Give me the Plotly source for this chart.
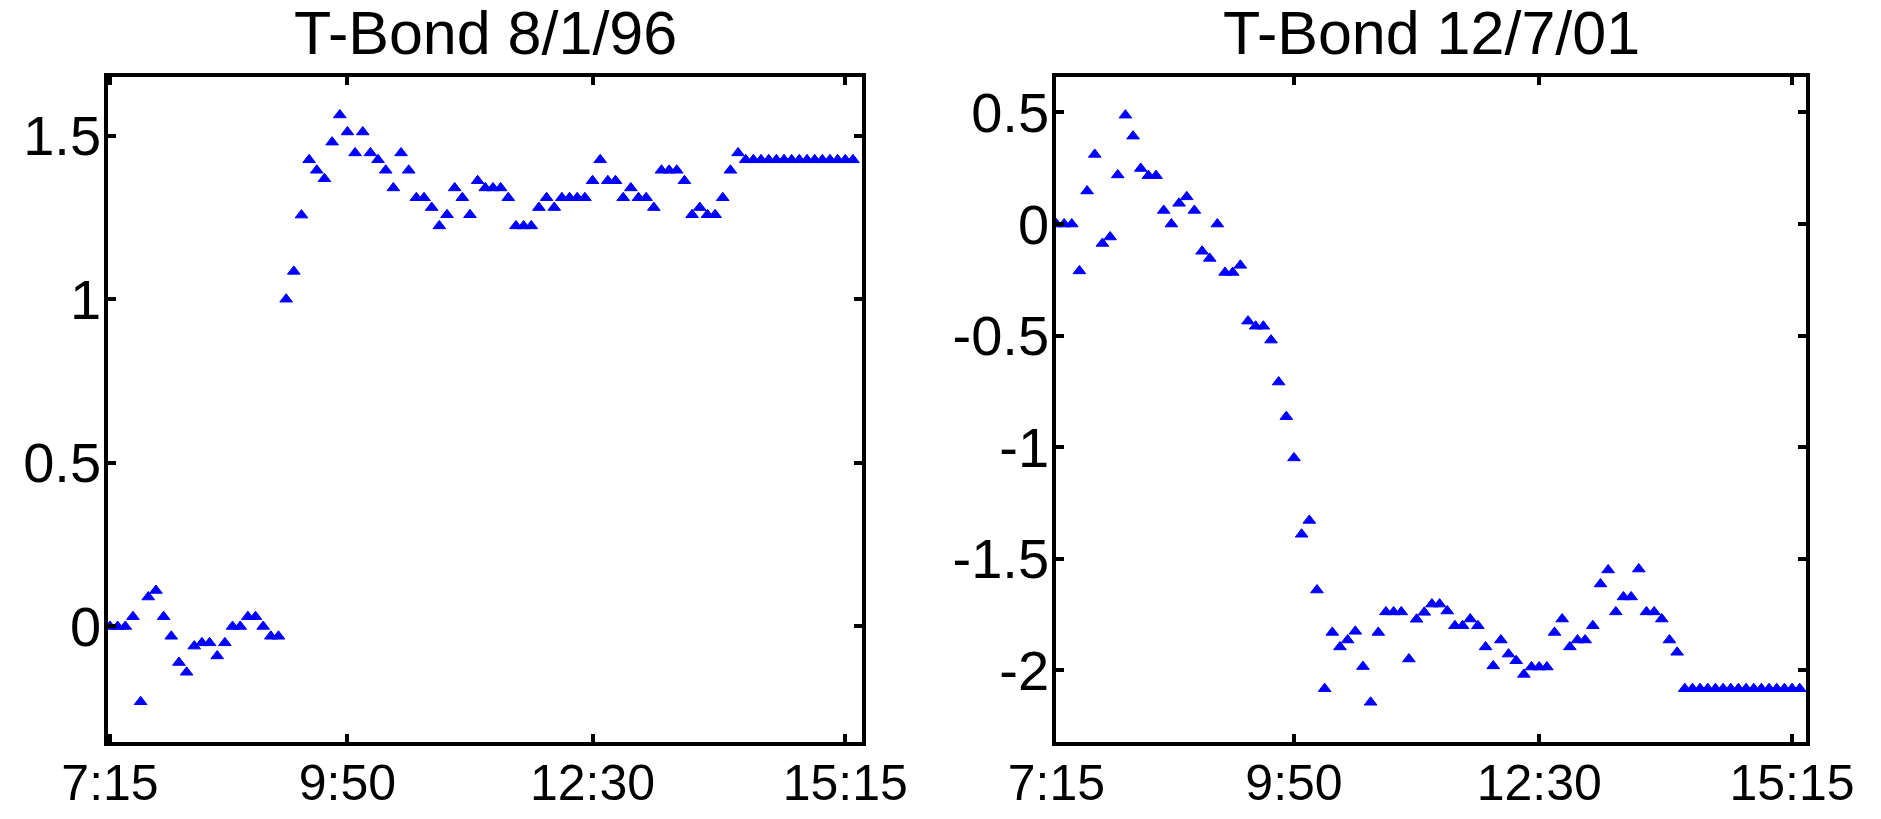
import plotly.graph_objects as go

# observation times: minutes after midnight, every 5 minutes from 7:15 to 15:20
times = list(range(435, 925, 5))

tbond_960801 = [0, 0, 0, 0.03, -0.23, 0.09, 0.11, 0.03, -0.03, -0.11, -0.14,
                -0.06, -0.05, -0.05, -0.09, -0.05, 0.0, 0.0, 0.03, 0.03, 0.0,
                -0.03, -0.03, 1.0, 1.085, 1.257, 1.426, 1.394, 1.368, 1.48, 1.563,
                1.511, 1.447, 1.511, 1.447, 1.426, 1.394, 1.34, 1.447, 1.394,
                1.31, 1.31, 1.28, 1.224, 1.258, 1.34, 1.31, 1.258, 1.362,
                1.34, 1.34, 1.34, 1.31, 1.224, 1.224, 1.224, 1.28, 1.31, 1.28,
                1.31, 1.31, 1.31, 1.31, 1.362, 1.426, 1.362, 1.362, 1.31, 1.34,
                1.31, 1.31, 1.28, 1.394, 1.394, 1.394, 1.362, 1.258, 1.28,
                1.258, 1.258, 1.31, 1.394, 1.447,
                1.426, 1.426, 1.426, 1.426, 1.426, 1.426, 1.426, 1.426, 1.426,
                1.426, 1.426, 1.426, 1.426, 1.426, 1.426]

tbond_011207 = [0, 0, 0, -0.21, 0.148, 0.312, -0.087, -0.058, 0.22, 0.488, 0.394,
                0.249, 0.217, 0.217, 0.061, 0, 0.093, 0.122, 0.061, -0.122, -0.154,
                0, -0.217, -0.217, -0.185, -0.435, -0.458, -0.458, -0.52, -0.708,
                -0.863, -1.048, -1.39, -1.328, -1.64, -2.082, -1.83, -1.895, -1.864,
                -1.825, -1.983, -2.143, -1.83, -1.738, -1.738, -1.738, -1.949,
                -1.771, -1.74, -1.703, -1.703, -1.734, -1.80, -1.80, -1.77, -1.80,
                -1.895, -1.98, -1.864, -1.927, -1.957, -2.018, -1.985, -1.985,
                -1.985, -1.83, -1.77, -1.895, -1.864, -1.864, -1.80, -1.613, -1.55,
                -1.738, -1.671, -1.671, -1.546, -1.738, -1.738, -1.77, -1.864,
                -1.919,
                -2.082, -2.082, -2.082, -2.082, -2.082, -2.082, -2.082, -2.082,
                -2.082, -2.082, -2.082, -2.082, -2.082, -2.082, -2.082, -2.082]

x_tickvals = [435, 590, 750, 915]
x_ticktext = ["7:15", "9:50", "12:30", "15:15"]

left_yticks = [0, 0.5, 1, 1.5]
left_yticktext = ["0", "0.5", "1", "1.5"]
right_yticks = [-2, -1.5, -1, -0.5, 0, 0.5]
right_yticktext = ["-2", "-1.5", "-1", "-0.5", "0", "0.5"]

titles = ["T-Bond 8/1/96", "T-Bond 12/7/01"]

# the page body has an 8 px margin, so the figure is drawn 8 px in from the window
OFF = 8
W, H = 1881 - 2 * OFF, 819 - 2 * OFF
FONT = "Liberation Sans, Arial, Helvetica, sans-serif"
BLUE = "#0000FF"

fig = go.Figure()
marker = dict(symbol="triangle-up", size=11, color=BLUE, line=dict(color=BLUE, width=1))
fig.add_trace(go.Scatter(x=times, y=tbond_960801, mode="markers", marker=marker,
                         xaxis="x", yaxis="y", showlegend=False))
fig.add_trace(go.Scatter(x=times, y=tbond_011207, mode="markers", marker=marker,
                         xaxis="x2", yaxis="y2", showlegend=False))

dom_l = [(108 - OFF) / W, (862 - OFF) / W]
dom_r = [(1056 - OFF) / W, (1806 - OFF) / W]
dom_y = [1 - (742 - OFF) / H, 1 - (77 - OFF) / H]
title_y = 1 - (33 - OFF) / H

common = dict(showline=True, linecolor="black", linewidth=3.5, mirror="ticks",
              ticks="inside", ticklen=8, tickwidth=3.5, tickcolor="black",
              showgrid=False, zeroline=False, automargin=False)
xfont = dict(family=FONT, size=50, color="black")
yfont = dict(family=FONT, size=56, color="black")

fig.update_layout(
    width=W, height=H,
    margin=dict(l=0, r=0, t=0, b=0, autoexpand=False),
    paper_bgcolor="white", plot_bgcolor="white",
    xaxis=dict(domain=dom_l, range=[433.7, 925.9], tickvals=x_tickvals,
               ticktext=x_ticktext, anchor="y", ticklabelstandoff=-6,
               tickfont=xfont, **common),
    yaxis=dict(domain=dom_y, range=[-0.353, 1.679], tickvals=left_yticks,
               ticktext=left_yticktext, anchor="x", ticklabelstandoff=-8,
               tickfont=yfont, **common),
    xaxis2=dict(domain=dom_r, range=[434.7, 924.1], tickvals=x_tickvals,
                ticktext=x_ticktext, anchor="y2", ticklabelstandoff=-6,
                tickfont=xfont, **common),
    yaxis2=dict(domain=dom_y, range=[-2.321, 0.659], tickvals=right_yticks,
                ticktext=right_yticktext, anchor="x2", ticklabelstandoff=-8,
                tickfont=yfont, **common),
    annotations=[
        dict(text=titles[0], x=(dom_l[0] + dom_l[1]) / 2, y=title_y,
             xref="paper", yref="paper", xanchor="center", yanchor="middle",
             showarrow=False, font=dict(family=FONT, size=61, color="black")),
        dict(text=titles[1], x=(dom_r[0] + dom_r[1]) / 2, y=title_y,
             xref="paper", yref="paper", xanchor="center", yanchor="middle",
             showarrow=False, font=dict(family=FONT, size=61, color="black")),
    ],
)

fig.write_html("out.html")
